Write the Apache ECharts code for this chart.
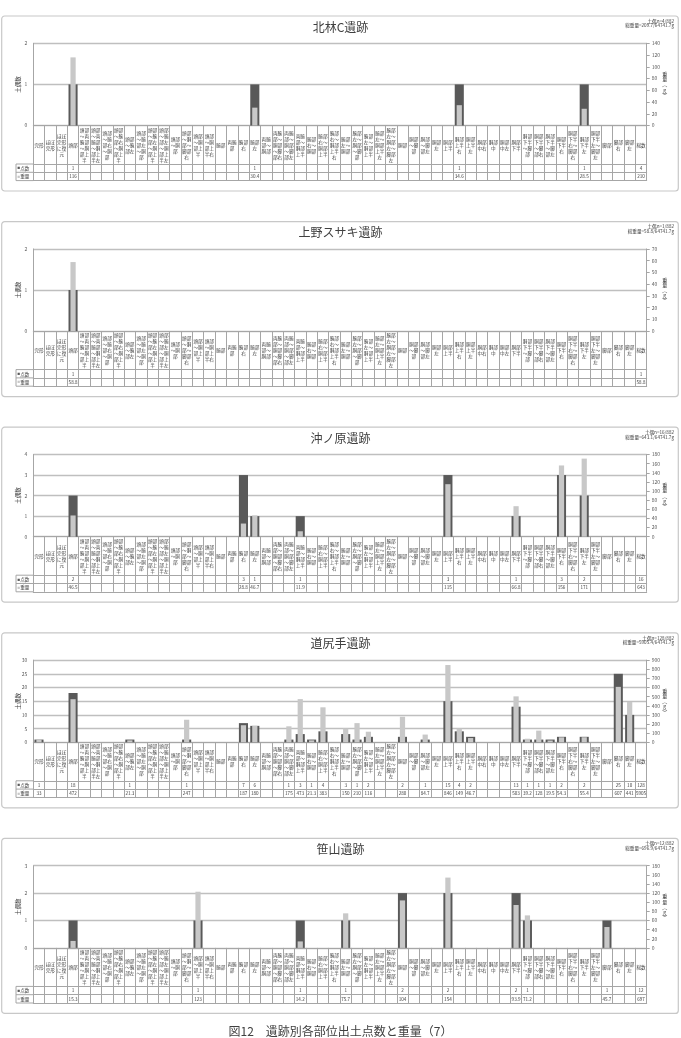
<!DOCTYPE html>
<html>
<head>
<meta charset="utf-8">
<script src="https://cdn.jsdelivr.net/npm/echarts@6/dist/echarts.min.js"></script>
<style>
  html, body { margin: 0; padding: 0; background: #fff; }
  #main { width: 681px; height: 1038px; }
</style>
</head>
<body>
<div id="main"></div>
<script>
// 部位カテゴリ（表の見出し）
const categories = [
  '完形', 'ほぼ完形', 'ほぼ完形に復元', '頭部',
  '頭部～両腕部～胴部上半', '頭部～両腕部～胴部上半左',
  '頭部～腕部右～胴部', '頭部～腕部右～胴部上半',
  '頭部～腕部左', '頭部～腕部左～胴部', '頭部～腕部左～胴部上半', '頭部～腕部左～胴部上半左',
  '頭部～胴部', '頭部～胴部～脚部右', '頭部～胴部上半', '頭部～胴部上半右',
  '腕部', '両腕部', '腕部右', '腕部左',
  '両腕部～胴部', '両腕部～胴部～脚部右', '両腕部～胴部～脚部左', '両腕部～胴部上半',
  '腕部右～胴部', '腕部右～胴部上半', '腕部右～胴部上半右',
  '腕部左～胴部', '腕部左～胴部～脚部', '腕部左～胴部上半', '腕部左～胴部上半左', '腕部左～胴部左～脚部左',
  '胴部', '胴部～脚部', '胴部～脚部左', '胴部左', '胴部上半', '胴部上半右', '胴部上半左',
  '胴部中右', '胴部中', '胴部中左', '胴部下半',
  '胴部下半～脚部', '胴部下半～脚部右', '胴部下半～脚部左',
  '胴部下半右', '胴部下半右～脚部右', '胴部下半左', '胴部下半左～脚部左',
  '脚部', '脚部右', '脚部左', '総数'
];

const sites = ['北林C遺跡', '上野スサキ遺跡', '沖ノ原遺跡', '道尻手遺跡', '笹山遺跡'];
const siteNotes = [
  ['土偶n=4/882', '総重量=209.7/64741.7g'],
  ['土偶n=1/882', '総重量=58.8/64741.7g'],
  ['土偶n=16/882', '総重量=643.1/64741.7g'],
  ['土偶n=128/882', '総重量=5905.4/64741.7g'],
  ['土偶n=12/882', '総重量=696.9/64741.7g']
];

// 北林C遺跡
const kitabayashiParts = ['頭部', '腕部左', '胴部上半右', '胴部下半左'];
const kitabayashiCounts = [1, 1, 1, 1];
const kitabayashiWeights = [116, 30.4, 34.6, 28.5];
// 上野スサキ遺跡
const uenoParts = ['頭部'];
const uenoCounts = [1];
const uenoWeights = [58.8];
// 沖ノ原遺跡
const okinoharaParts = ['頭部', '腕部右', '腕部左', '両腕部～胴部上半', '胴部上半', '胴部下半', '胴部下半右', '胴部下半左'];
const okinoharaCounts = [2, 3, 1, 1, 3, 1, 3, 2];
const okinoharaWeights = [46.5, 28.8, 46.7, 11.9, 115, 66.8, 156, 171];
// 道尻手遺跡
const michishiriteParts = ['完形', '頭部', '頭部～腕部左', '頭部～胴部～脚部右', '腕部右', '腕部左',
  '両腕部～胴部～脚部左', '両腕部～胴部上半', '腕部右～胴部', '腕部右～胴部上半',
  '腕部左～胴部', '腕部左～胴部～脚部', '腕部左～胴部上半', '胴部', '胴部～脚部左',
  '胴部上半', '胴部上半右', '胴部上半左', '胴部下半', '胴部下半～脚部', '胴部下半～脚部右',
  '胴部下半～脚部左', '胴部下半右', '胴部下半左', '脚部右', '脚部左'];
const michishiriteCounts = [1, 18, 1, 1, 7, 6, 1, 3, 1, 4, 3, 1, 2, 2, 1, 15, 4, 2, 13, 1, 1, 1, 2, 2, 25, 10];
const michishiriteWeights = [33, 472, 21.3, 247, 187, 180, 175, 473, 21.3, 383, 150, 210, 116, 280, 84.7,
  846, 149, 46.7, 503, 39.2, 128, 19.5, 54.3, 55.4, 607, 441];
// 笹山遺跡
const sasayamaParts = ['頭部', '頭部～胴部上半', '両腕部～胴部上半', '腕部左～胴部', '胴部', '胴部上半', '胴部下半', '胴部下半～脚部', '脚部'];
const sasayamaCounts = [1, 1, 1, 1, 2, 2, 2, 1, 1];
const sasayamaWeights = [15.3, 123, 14.2, 75.7, 104, 154, 93.9, 71.2, 45.7];

const totalCounts = [4, 1, 16, 128, 12];
const totalWeights = ['210', '58.8', '643', '5905', '697'];

const countMax = [2, 2, 4, 30, 3];
const countStep = [1, 1, 1, 5, 1];
const weightMax = [140, 70, 180, 900, 180];
const weightStep = [20, 10, 20, 100, 20];

const siteData = [
  [kitabayashiParts, kitabayashiCounts, kitabayashiWeights],
  [uenoParts, uenoCounts, uenoWeights],
  [okinoharaParts, okinoharaCounts, okinoharaWeights],
  [michishiriteParts, michishiriteCounts, michishiriteWeights],
  [sasayamaParts, sasayamaCounts, sasayamaWeights]
];

function fill(parts, vals) {
  const arr = categories.map(() => null);
  parts.forEach((p, i) => { arr[categories.indexOf(p)] = vals[i]; });
  return arr;
}
function chunk(s) {
  return s.match(/.{1,2}/g).join('\n');
}

const FONT = '"Noto Sans CJK JP", sans-serif';
const lineC = '#a6a6a6';
const textC = '#404040';
const labelH = 38.5, rowH = 8.3;

const myChart = echarts.init(document.getElementById('main'));
const option = {
  animation: false,
  textStyle: { fontFamily: FONT },
  grid: [], xAxis: [], yAxis: [], series: [], graphic: []
};

sites.forEach((name, p) => {
  const T = 16 + p * 205.6;
  const y0 = T + 109.5;
  const counts = fill(siteData[p][0], siteData[p][1]);
  const weights = fill(siteData[p][0], siteData[p][2]);

  option.grid.push({ left: 33.3, right: 34.3, top: T + 27.3, height: 82.2, outerBoundsMode: 'none' });

  const base = {
    type: 'category', gridIndex: p, data: categories, position: 'bottom', boundaryGap: true,
    axisLine: { show: true, onZero: false, lineStyle: { color: lineC, width: 1 } },
    axisTick: { show: false }, splitLine: { show: false }
  };
  const small = { fontSize: 4.6, color: textC, fontFamily: FONT, verticalAlign: 'middle', interval: 0 };
  option.xAxis.push(Object.assign({}, base, {
    offset: 0,
    axisTick: { show: true, interval: 0, length: labelH + rowH * 2, lineStyle: { color: lineC } },
    axisLabel: Object.assign({}, small, { lineHeight: 6, margin: labelH / 2, formatter: v => chunk(v) })
  }));
  option.xAxis.push(Object.assign({}, base, {
    offset: labelH,
    axisLabel: Object.assign({}, small, { margin: rowH / 2,
      formatter: (v, i) => i === 53 ? String(totalCounts[p]) : (counts[i] == null ? '' : String(counts[i])) })
  }));
  option.xAxis.push(Object.assign({}, base, {
    offset: labelH + rowH,
    axisLabel: Object.assign({}, small, { margin: rowH / 2,
      formatter: (v, i) => i === 53 ? totalWeights[p] : (weights[i] == null ? '' : String(weights[i])) })
  }));
  option.xAxis.push(Object.assign({}, base, { offset: labelH + rowH * 2, axisLabel: { show: false } }));

  option.yAxis.push({
    type: 'value', gridIndex: p, position: 'left', min: 0, max: countMax[p], interval: countStep[p],
    axisLine: { show: true, lineStyle: { color: lineC } }, axisTick: { show: false },
    splitLine: { show: true, lineStyle: { color: '#bfbfbf', width: 1.3 } },
    axisLabel: { fontSize: 5, color: '#595959', margin: 6 },
    name: '土偶数', nameLocation: 'middle', nameRotate: 90, nameGap: 13, nameMoveOverlap: false,
    nameTextStyle: { fontSize: 5.5, color: textC }
  });
  option.yAxis.push({
    type: 'value', gridIndex: p, position: 'right', min: 0, max: weightMax[p], interval: weightStep[p],
    axisLine: { show: true, lineStyle: { color: lineC } },
    axisTick: { show: true, length: 3, lineStyle: { color: lineC } },
    splitLine: { show: false },
    axisLabel: { fontSize: 5, color: '#595959', margin: 5 },
    name: '重\n量\n︵\ng\n︶', nameLocation: 'middle', nameRotate: 0, nameGap: 18, nameMoveOverlap: false,
    nameTextStyle: { fontSize: 5, lineHeight: 5.2, color: textC, align: 'center' }
  });

  option.series.push({
    name: '点数', type: 'bar', xAxisIndex: 4 * p, yAxisIndex: 2 * p, data: counts,
    barWidth: '80%', itemStyle: { color: '#595959' }, z: 2
  });
  option.series.push({
    name: '重量', type: 'bar', xAxisIndex: 4 * p + 1, yAxisIndex: 2 * p + 1, data: weights,
    barWidth: '46%', itemStyle: { color: '#c8c8c8' }, z: 3
  });

  // 枠・タイトル・注記・表の凡例セル
  option.graphic.push(
    { type: 'rect', shape: { x: 1.7, y: T, width: 676.6, height: 175, r: 3 },
      style: { fill: 'none', stroke: '#c8c8c8', lineWidth: 1.2 }, silent: true },
    { type: 'text', x: 340.5, y: T + 11,
      style: { text: name, fontSize: 12, fontFamily: FONT, fill: textC, align: 'center', verticalAlign: 'middle' } },
    { type: 'text', x: 674, y: T + 5,
      style: { text: siteNotes[p][0], fontSize: 4.6, fontFamily: FONT, fill: textC, align: 'right', verticalAlign: 'middle' } },
    { type: 'text', x: 674, y: T + 9.7,
      style: { text: siteNotes[p][1], fontSize: 4.6, fontFamily: FONT, fill: textC, align: 'right', verticalAlign: 'middle' } }
  );
  [labelH, labelH + rowH, labelH + rowH * 2].forEach(d => {
    option.graphic.push({ type: 'line', shape: { x1: 16, y1: y0 + d, x2: 33.3, y2: y0 + d },
      style: { stroke: lineC, lineWidth: 1 }, silent: true });
  });
  option.graphic.push(
    { type: 'line', shape: { x1: 16, y1: y0 + labelH, x2: 16, y2: y0 + labelH + rowH * 2 },
      style: { stroke: lineC, lineWidth: 1 }, silent: true },
    { type: 'text', x: 17.5, y: y0 + labelH + rowH / 2,
      style: { text: '{k|■}点数', fontSize: 4.6, fontFamily: FONT, fill: textC, verticalAlign: 'middle',
        rich: { k: { fill: '#595959', fontSize: 4.6 } } } },
    { type: 'text', x: 17.5, y: y0 + labelH + rowH * 1.5,
      style: { text: '{k|■}重量', fontSize: 4.6, fontFamily: FONT, fill: textC, verticalAlign: 'middle',
        rich: { k: { fill: '#c8c8c8', fontSize: 4.6 } } } }
  );
});

option.graphic.push({ type: 'text', x: 340.5, y: 1031,
  style: { text: '図12　遺跡別各部位出土点数と重量（7）', fontSize: 12, fontFamily: FONT, fill: textC,
    align: 'center', verticalAlign: 'middle' } });

myChart.setOption(option);
</script>
</body>
</html>
